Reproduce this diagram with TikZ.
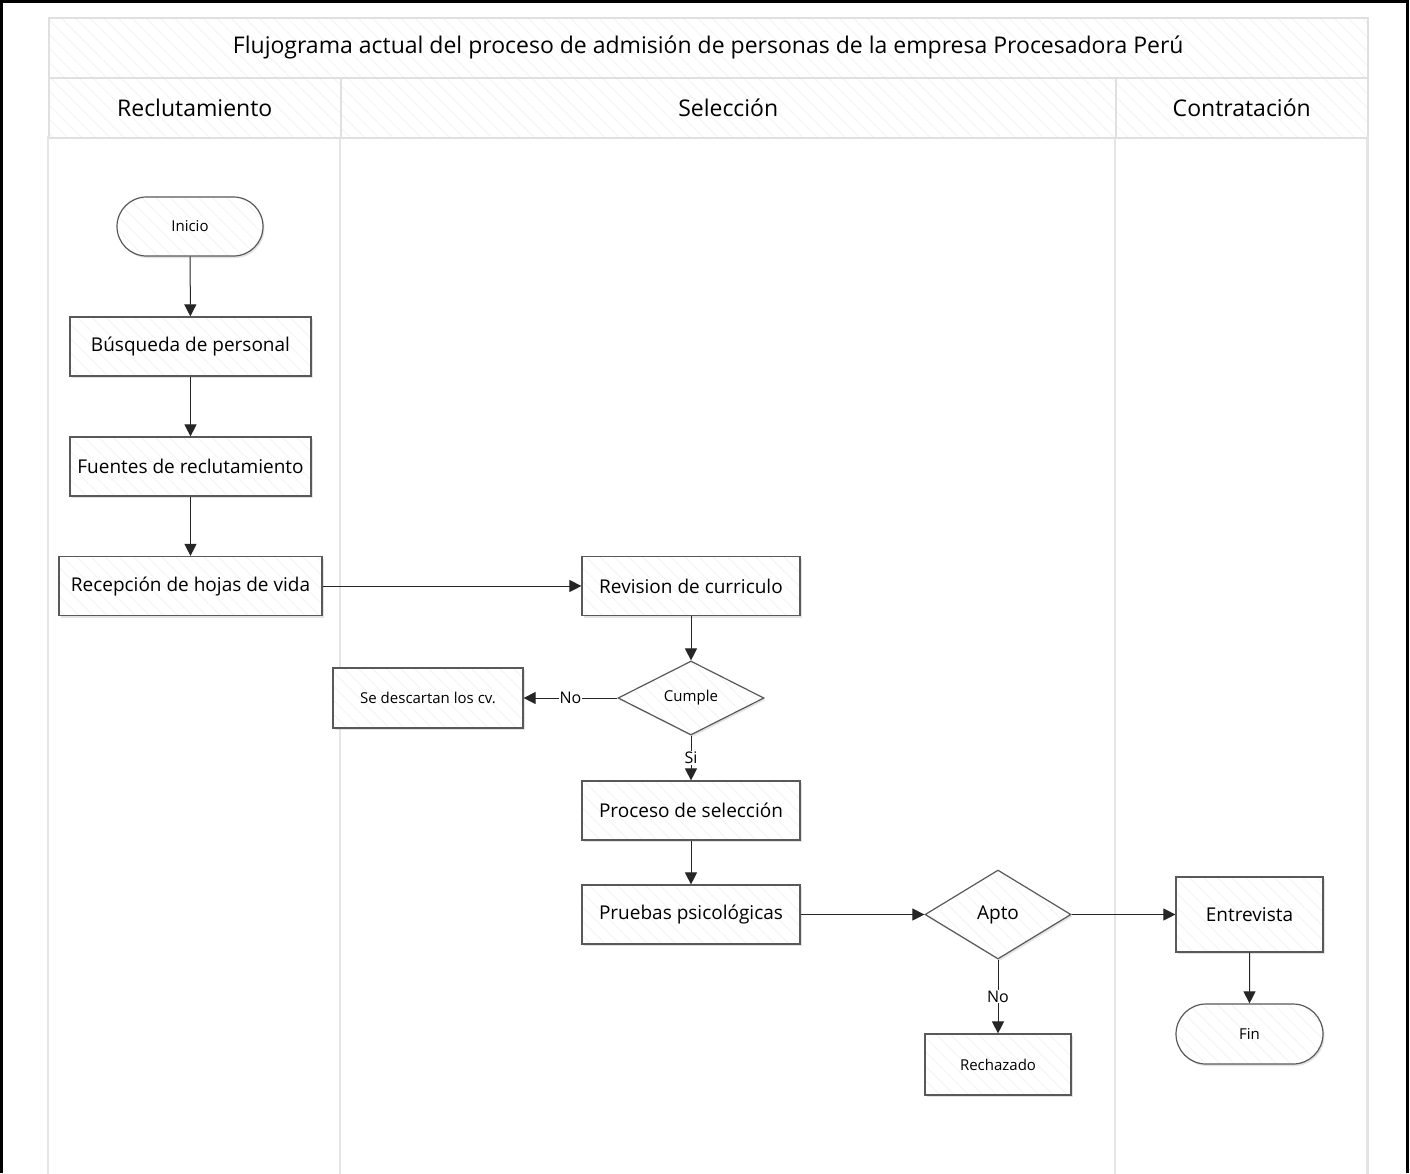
\documentclass[tikz,border=0pt]{standalone}
\usepackage{fontspec}
\setmainfont{Open Sans}
\usetikzlibrary{shapes.geometric,shapes.misc,shadows,patterns.meta,arrows.meta}
\begin{document}
\begin{tikzpicture}[x=1pt,y=-1pt,
  hatch/.style={preaction={fill=white},pattern={Lines[angle=-45,distance=10pt,line width=0.7pt]},pattern color=black!5},
  shade/.style={drop shadow={opacity=0.22,shadow xshift=1.5pt,shadow yshift=-2pt}},
  lanecell/.style={hatch,draw=black!12,line width=1.5pt},
  lanebody/.style={draw=black!10,line width=2pt},
  stepbox/.style={shade,hatch,draw=black!65,line width=1.2pt,rectangle,inner sep=0pt,font=\fontsize{19}{22}\selectfont},
  term/.style={shade,hatch,draw=black!65,line width=1.2pt,rounded rectangle,inner sep=0pt,minimum width=146pt,minimum height=59pt,font=\fontsize{15}{18}\selectfont},
  decision/.style={shade,hatch,draw=black!65,line width=1.2pt,diamond,inner sep=0pt,aspect=1.6},
  flow/.style={draw=black!85,line width=1pt,-{Triangle[length=12pt,width=12pt]}},
  edgelabel/.style={fill=white,inner sep=1pt,font=\fontsize{16}{18}\selectfont}
]
\useasboundingbox (0,0) rectangle (1410,1173);
\fill[white] (0,0) rectangle (1410,1173);

% lanes: bodies first, then header cells
\draw[lanebody,shade,fill=white] (48,137) rectangle (340,1180);
\draw[lanebody,shade,fill=white] (340,137) rectangle (1115,1180);
\draw[lanebody,shade,fill=white] (1115,137) rectangle (1367,1180);
\node[shade,lanecell,minimum width=1319pt,minimum height=60pt,inner sep=0pt,anchor=north west,
      font=\fontsize{23}{26}\selectfont] (title) at (48,17)
      {Flujograma actual del proceso de admisión de personas de la empresa Procesadora Perú};
\node[lanecell,minimum width=292pt,minimum height=60pt,inner sep=0pt,anchor=north west,
      font=\fontsize{23}{26}\selectfont] (hrec) at (48,77) {Reclutamiento};
\node[lanecell,minimum width=775pt,minimum height=60pt,inner sep=0pt,anchor=north west,
      font=\fontsize{23}{26}\selectfont] (hsel) at (340,77) {Selección};
\node[lanecell,minimum width=252pt,minimum height=60pt,inner sep=0pt,anchor=north west,
      font=\fontsize{23}{26}\selectfont] (hcon) at (1115,77) {Contratación};

% outer frame
\draw[black,line width=3.5pt] (1.5,1173) -- (1.5,1.5) -- (1407.5,1.5) -- (1407.5,1173);

% flow nodes
\node[term] (inicio) at (190,226.5) {Inicio};
\node[stepbox,minimum width=241pt,minimum height=59pt] (busq) at (190.5,346.5) {Búsqueda de personal};
\node[stepbox,minimum width=241pt,minimum height=59pt] (fuentes) at (190.5,466.5) {Fuentes de reclutamiento};
\node[stepbox,minimum width=263pt,minimum height=59pt] (recep) at (190.5,586) {Recepción de hojas de vida};
\node[stepbox,minimum width=218pt,minimum height=59pt] (revision) at (691,586) {Revision de curriculo};
\node[decision,minimum width=146pt,minimum height=74pt,font=\fontsize{15}{18}\selectfont] (cumple) at (691,698) {Cumple};
\node[stepbox,minimum width=190pt,minimum height=60pt,font=\fontsize{15}{18}\selectfont] (descarta) at (428,698) {Se descartan los cv.};
\node[stepbox,minimum width=218pt,minimum height=59pt] (proceso) at (691,810.5) {Proceso de selección};
\node[stepbox,minimum width=218pt,minimum height=59pt] (pruebas) at (691,914.5) {Pruebas psicológicas};
\node[decision,minimum width=146pt,minimum height=89pt,font=\fontsize{19}{22}\selectfont] (apto) at (998,914.5) {Apto};
\node[stepbox,minimum width=147pt,minimum height=75pt] (entrevista) at (1249.5,914.5) {Entrevista};
\node[term,minimum width=147pt,minimum height=60pt] (fin) at (1249.5,1034) {Fin};
\node[stepbox,minimum width=146pt,minimum height=61pt,font=\fontsize{15}{18}\selectfont] (rechazado) at (998,1064.5) {Rechazado};

% connectors
\draw[flow] (inicio) -- (busq);
\draw[flow] (busq) -- (fuentes);
\draw[flow] (fuentes) -- (recep);
\draw[flow] (recep) -- (revision);
\draw[flow] (revision) -- (cumple);
\draw[flow] (cumple) -- node[edgelabel,pos=0.5] {No} (descarta);
\draw[flow] (cumple) -- node[edgelabel,pos=0.5] {Si} (proceso);
\draw[flow] (proceso) -- (pruebas);
\draw[flow] (pruebas) -- (apto);
\draw[flow] (apto) -- (entrevista);
\draw[flow] (apto) -- node[edgelabel,pos=0.5] {No} (rechazado);
\draw[flow] (entrevista) -- (fin);
\end{tikzpicture}
\end{document}
